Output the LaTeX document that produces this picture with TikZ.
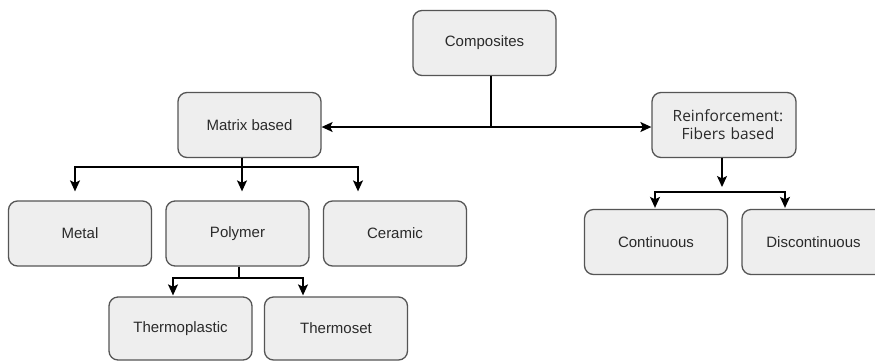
\documentclass[tikz,border=0pt]{standalone}
\usepackage{fontspec}
\setmainfont{Liberation Sans}
\newfontfamily\reinffont{Open Sans}
\usetikzlibrary{arrows.meta}
\definecolor{boxfill}{HTML}{EEEEEE}
\definecolor{boxdraw}{HTML}{555555}
\definecolor{txt}{HTML}{2A2A2A}
\begin{document}
\begin{tikzpicture}[x=1pt,y=-1pt,
  box/.style={draw=boxdraw, fill=boxfill, rounded corners=9pt, line width=1.3pt,
    minimum width=143pt, minimum height=65pt, inner sep=0pt, text=txt,
    font=\fontsize{15}{18}\selectfont},
  conn/.style={line width=1.4pt, draw=black},
  arr/.style={conn, -{Stealth[length=11pt,width=10pt,inset=2.5pt]}}]
\useasboundingbox (0,0) rectangle (875,360);
\clip (0,0) rectangle (875,360);
\fill[white] (0,0) rectangle (875,360);

\node[box] (comp) at (484.5,43) {Composites};
\node[box] (mat) at (249.5,125) {Matrix based};
\node[box, minimum width=144pt, align=center, text width=144pt,
  font=\reinffont\fontsize{15.5}{18}\selectfont] (reinf) at (724,125) {\hspace*{8pt}Reinforcement:\\\hspace*{8pt}Fibers based};
\node[box] (metal) at (80,233.5) {Metal};
\node[box] (poly) at (237.5,233.5) {Polymer};
\node[box] (cer) at (395,233.5) {Ceramic};
\node[box, minimum height=63pt] (tplast) at (180.5,328.5) {Thermoplastic};
\node[box, minimum height=63pt] (tset) at (336,328.5) {Thermoset};
\node[box] (cont) at (656,242) {Continuous};
\node[box] (disc) at (813.5,242) {Discontinuous};

% Composites connectors
\coordinate (j1) at (491,127);
\draw[conn] (comp.south -| j1) -- (j1);
\draw[arr] (j1) -- (j1 -| mat.east);
\draw[arr] (j1) -- (j1 -| reinf.west);

% Matrix connectors
\coordinate (j2) at (242,167);
\coordinate (j2l) at (75,167);
\coordinate (j2r) at (358,167);
\draw[arr] (mat.south -| j2) -- ([yshift=9pt]poly.north -| j2);
\draw[arr] (j2) -- (j2l) -- ([yshift=9pt]metal.north -| j2l);
\draw[arr] (j2) -- (j2r) -- ([yshift=9pt]cer.north -| j2r);

% Polymer connectors
\coordinate (j3) at (239,278);
\coordinate (j3l) at (173,278);
\coordinate (j3r) at (303,278);
\draw[conn] (poly.south -| j3) -- (j3);
\draw[arr] (j3) -- (j3l) -- ([yshift=1pt]tplast.north -| j3l);
\draw[arr] (j3) -- (j3r) -- ([yshift=1pt]tset.north -| j3r);

% Reinforcement connectors
\coordinate (j4) at (722,192);
\coordinate (j4l) at (655,192);
\coordinate (j4r) at (785,192);
\draw[arr] (reinf.south -| j4) -- ([yshift=5pt]j4);
\draw[arr] (j4) -- (j4l) -- ([yshift=1pt]cont.north -| j4l);
\draw[arr] (j4) -- (j4r) -- ([yshift=1pt]disc.north -| j4r);
\end{tikzpicture}
\end{document}
